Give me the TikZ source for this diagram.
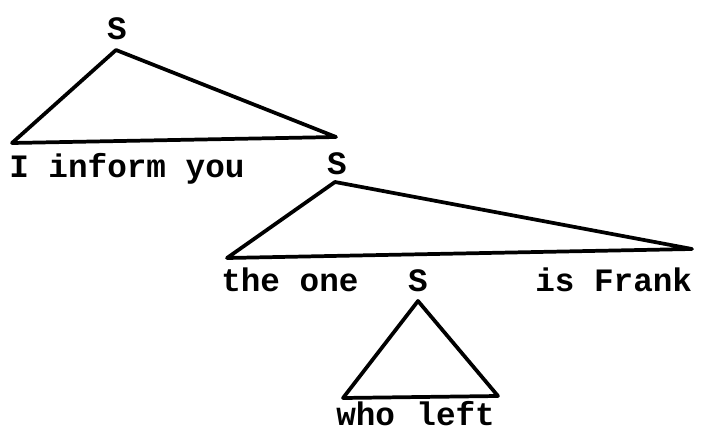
\documentclass[tikz,border=0pt]{standalone}
\usepackage{fontspec}
\setmainfont{Liberation Mono}
\begin{document}
\begin{tikzpicture}[x=0.75pt,y=-0.75pt,
  lbl/.style={inner sep=0pt,font=\fontsize{24.5}{28}\selectfont\bfseries},
  tri/.style={line width=2.8pt,line join=round,line cap=round}]
\useasboundingbox (0,0) rectangle (706,431);
% labels
\node[lbl,anchor=base] (s1) at (117,40) {S};
\node[lbl,anchor=base west] (w1) at (9,177) {I inform you};
\node[lbl,anchor=base] (s2) at (337,175) {S};
\node[lbl,anchor=base west] (w2) at (221,291) {the one};
\node[lbl,anchor=base] (s3) at (418,291) {S};
\node[lbl,anchor=base west] (w3) at (535,291) {is Frank};
\node[lbl,anchor=base west] (w4) at (336,425) {who\hspace{16pt}left};
% triangle corners
\coordinate (a1) at (116,50);
\coordinate (l1) at (12,143);
\coordinate (r1) at (336,137);
\coordinate (a2) at (335,182);
\coordinate (l2) at (227,258);
\coordinate (r2) at (692,249);
\coordinate (a3) at (418,301);
\coordinate (l3) at (343,398);
\coordinate (r3) at (498,396);
\draw[tri] (a1) -- (l1) -- (r1) -- cycle;
\draw[tri] (a2) -- (l2) -- (r2) -- cycle;
\draw[tri] (a3) -- (l3) -- (r3) -- cycle;
\end{tikzpicture}
\end{document}
